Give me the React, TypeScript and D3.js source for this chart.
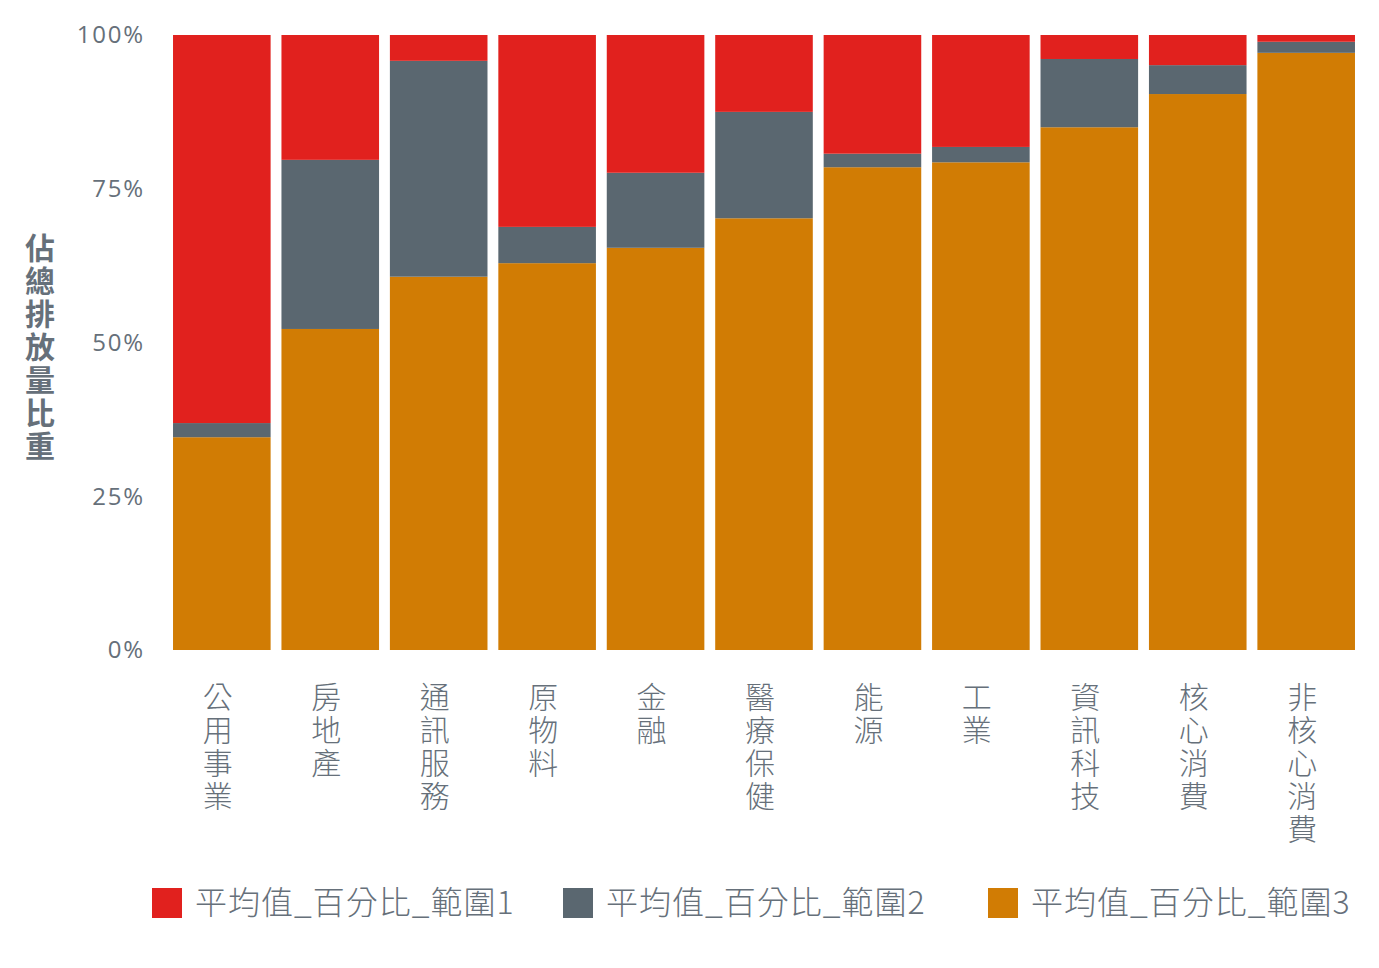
import React, { useEffect, useRef } from "react";
import * as d3 from "d3";

const categories = ["公用事業", "房地產", "通訊服務", "原物料", "金融", "醫療保健", "能源", "工業", "資訊科技", "核心消費", "非核心消費"];
const scope1 = [63.1, 20.3, 4.2, 31.2, 22.4, 12.5, 19.3, 18.2, 3.9, 4.9, 1.1];
const scope2 = [2.3, 27.5, 35.1, 5.9, 12.2, 17.3, 2.2, 2.5, 11.1, 4.7, 1.8];
const scope3 = [34.6, 52.2, 60.7, 62.9, 65.4, 70.2, 78.5, 79.3, 85.0, 90.4, 97.1];
const seriesNames = ["平均值_百分比_範圍1", "平均值_百分比_範圍2", "平均值_百分比_範圍3"];
const seriesColors = ["#e1211e", "#5a6770", "#d17c04"];
const yTicks = [0, 25, 50, 75, 100];
const yTitle = "佔總排放量比重";

const W = 1379, H = 968;
const TEXT = "#66707a";
const FONT = "'Noto Sans CJK TC', 'Noto Sans', sans-serif";
const legendX = [152, 563, 988];

export default function App() {
  const ref = useRef<SVGSVGElement>(null);
  useEffect(() => {
    const svg = d3.select(ref.current);
    svg.selectAll("*").remove();
    const x = d3.scaleBand<string>().domain(categories).range([167.6, 1360.4]).paddingInner(0.1).paddingOuter(0.05);
    const y = d3.scaleLinear().domain([0, 100]).range([650, 35]);

    const rows = categories.map((c, i) => ({ cat: c, s3: scope3[i], s2: scope2[i], s1: scope1[i] }));
    const stack = d3.stack<any>().keys(["s3", "s2", "s1"]);
    const layers = stack(rows);
    const colorFor: Record<string, string> = { s1: seriesColors[0], s2: seriesColors[1], s3: seriesColors[2] };

    const g = svg.append("g");
    layers.forEach((layer) => {
      g.selectAll(null)
        .data(layer)
        .enter()
        .append("rect")
        .attr("x", (d: any) => x(d.data.cat)!)
        .attr("width", x.bandwidth())
        .attr("y", (d: any) => y(Math.min(d[1], 100)))
        .attr("height", (d: any) => y(d[0]) - y(Math.min(d[1], 100)))
        .attr("fill", colorFor[layer.key]);
    });

    // y tick labels
    svg.append("g").selectAll("text").data(yTicks).enter().append("text")
      .attr("x", 145).attr("y", (d) => y(d)).attr("dy", "0.35em")
      .attr("text-anchor", "end")
      .attr("fill", TEXT)
      .style("font-family", "'Open Sans', sans-serif")
      .style("font-size", "24px")
      .style("letter-spacing", "1.8px")
      .text((d) => `${d}%`);

    // y title, vertical writing mode
    svg.append("text")
      .attr("x", 40).attr("y", 233)
      .attr("fill", TEXT)
      .style("writing-mode", "vertical-rl")
      .style("text-orientation", "upright")
      .style("font-family", FONT).style("font-size", "30px").style("font-weight", 700)
      .style("letter-spacing", "3px")
      .text(yTitle);

    // category labels, vertical writing mode
    svg.append("g").selectAll("text").data(categories).enter().append("text")
      .attr("x", (c) => x(c)! + x.bandwidth() / 2 - 4)
      .attr("y", 682)
      .attr("fill", TEXT)
      .style("writing-mode", "vertical-rl")
      .style("text-orientation", "upright")
      .style("font-family", FONT).style("font-size", "30px").style("font-weight", 300)
      .style("letter-spacing", "3px")
      .text((c) => c);

    // legend
    const lg = svg.append("g");
    seriesNames.forEach((n, i) => {
      const lx = legendX[i];
      lg.append("rect").attr("x", lx).attr("y", 888).attr("width", 30).attr("height", 30).attr("fill", seriesColors[i]);
      lg.append("text").attr("x", lx + 43).attr("y", 903).attr("dy", "0.35em")
        .attr("fill", TEXT).style("font-family", FONT).style("font-size", "32px").style("font-weight", 300)
        .style("letter-spacing", "1px")
        .text(n);
    });
  }, []);
  return <svg ref={ref} width={W} height={H} style={{ position: "absolute", left: 0, top: 0, background: "#fff" }} />;
}
